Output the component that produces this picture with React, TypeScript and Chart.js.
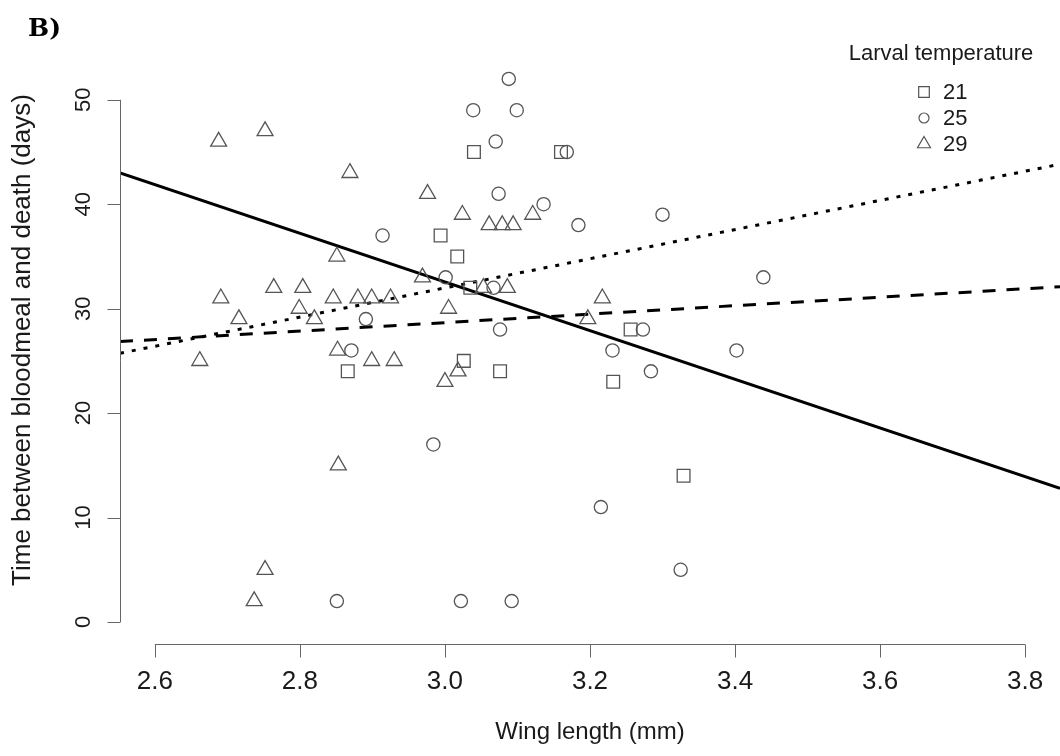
import React, { useEffect, useRef } from "react";
import { Chart, registerables } from "chart.js";

Chart.register(...registerables);

// ---------- axes ----------
const xTickValues = [2.6, 2.8, 3.0, 3.2, 3.4, 3.6, 3.8];
const xTickLabels = ["2.6", "2.8", "3.0", "3.2", "3.4", "3.6", "3.8"];
const yTickValues = [0, 10, 20, 30, 40, 50];
const yTickLabels = ["0", "10", "20", "30", "40", "50"];
const xLimits = [2.552, 3.848];
const yLimits = [0, 54];

// ---------- legend ----------
const legendTitle = "Larval temperature";
const groupLabels = ["21", "25", "29"];

// ---------- data: larval temperature 21 (squares) ----------
const wing21 = [3.040, 3.160, 2.994, 3.017, 3.035, 3.256, 2.866, 3.026, 3.076, 3.232, 3.329];
const days21 = [45, 45, 37, 35, 32, 28, 24, 25, 24, 23, 14];

// ---------- data: larval temperature 25 (circles) ----------
const wing25 = [3.088, 3.039, 3.099, 3.070, 3.168, 3.074, 3.136, 3.184, 3.300, 2.914, 3.001, 3.439, 3.067, 2.891, 3.076, 3.273, 2.871, 3.231, 3.402, 3.284, 2.984, 3.215, 3.325, 2.851, 3.022, 3.092];
const days25 = [52, 49, 49, 46, 45, 41, 40, 38, 39, 37, 33, 33, 32, 29, 28, 28, 26, 26, 26, 24, 17, 11, 5, 2, 2, 2];

// ---------- data: larval temperature 29 (triangles) ----------
const wing29 = [2.688, 2.752, 2.869, 2.976, 3.024, 3.061, 3.079, 3.094, 3.121, 2.851, 2.969, 2.764, 2.804, 3.053, 3.086, 2.691, 2.846, 2.880, 2.899, 2.925, 3.217, 2.799, 3.005, 2.716, 2.820, 3.197, 2.852, 2.662, 2.899, 2.930, 3.018, 3.000, 2.853, 2.752, 2.737];
const days29 = [46, 47, 43, 41, 39, 38, 38, 38, 39, 35, 33, 32, 32, 32, 32, 31, 31, 31, 31, 31, 31, 30, 30, 29, 29, 29, 26, 25, 25, 25, 24, 23, 15, 5, 2];

// ---------- fitted regression lines (values at the x limits) ----------
const fitWing = [2.552, 3.848];
const fitSolid = [43.0, 12.8];
const fitDashed = [26.85, 32.1];
const fitDotted = [25.73, 43.83];

const SANS = '"Liberation Sans", Arial, Helvetica, sans-serif';
const MARK = "#555555";
const TEXT = "#1a1a1a";

const toPoints = (xs: number[], ys: number[]) => xs.map((x, i) => ({ x, y: ys[i] }));

function drawSymbol(ctx: CanvasRenderingContext2D, kind: string, x: number, y: number, r: number) {
  ctx.beginPath();
  if (kind === "rect") {
    const s = r * Math.SQRT1_2;
    ctx.rect(x - s, y - s, 2 * s, 2 * s);
  } else if (kind === "circle") {
    ctx.arc(x, y, r, 0, Math.PI * 2);
  } else {
    ctx.moveTo(x, y - r);
    ctx.lineTo(x + r * 0.866, y + r * 0.5);
    ctx.lineTo(x - r * 0.866, y + r * 0.5);
    ctx.closePath();
  }
  ctx.stroke();
}

const rAxesPlugin = {
  id: "rAxes",
  afterDraw(chart: any) {
    const { ctx, chartArea, scales } = chart;
    const xs = scales.x;
    const ys = scales.y;
    ctx.save();
    ctx.strokeStyle = "#666666";
    ctx.lineWidth = 1;
    // x axis (R style, offset below plot region)
    const axY = Math.round(chartArea.bottom + 22) + 0.5;
    const xa = xs.getPixelForValue(xTickValues[0]);
    const xb = xs.getPixelForValue(xTickValues[xTickValues.length - 1]);
    ctx.beginPath();
    ctx.moveTo(xa, axY);
    ctx.lineTo(xb, axY);
    xTickValues.forEach((v) => {
      const p = Math.round(xs.getPixelForValue(v)) + 0.5;
      ctx.moveTo(p, axY);
      ctx.lineTo(p, axY + 13);
    });
    ctx.stroke();
    // y axis
    const axX = Math.round(chartArea.left) + 0.5;
    const ya = ys.getPixelForValue(yTickValues[0]);
    const yb = ys.getPixelForValue(yTickValues[yTickValues.length - 1]);
    ctx.beginPath();
    ctx.moveTo(axX, ya);
    ctx.lineTo(axX, yb);
    yTickValues.forEach((v) => {
      const p = Math.round(ys.getPixelForValue(v)) + 0.5;
      ctx.moveTo(axX, p);
      ctx.lineTo(axX - 13, p);
    });
    ctx.stroke();

    // panel label
    ctx.fillStyle = "#000";
    ctx.font = 'bold 25px "DejaVu Serif", "Liberation Serif", serif';
    ctx.textAlign = "left";
    ctx.textBaseline = "alphabetic";
    ctx.fillText("B)", 28, 36);

    // legend
    const lx = chartArea.right - 118;
    ctx.fillStyle = TEXT;
    ctx.font = `22px ${SANS}`;
    ctx.textAlign = "center";
    ctx.textBaseline = "middle";
    ctx.fillText(legendTitle, lx - 1, 54);
    const kinds = ["rect", "circle", "triangle"];
    const radii = [7.5, 5, 7.5];
    ctx.textAlign = "left";
    ctx.strokeStyle = MARK;
    ctx.lineWidth = 1.2;
    groupLabels.forEach((lab, i) => {
      const yy = 92 + i * 26;
      drawSymbol(ctx, kinds[i], lx - 18, yy, radii[i]);
      ctx.fillText(lab, lx + 1, yy + 1);
    });
    ctx.restore();
  },
};

export default function App() {
  const ref = useRef<HTMLCanvasElement | null>(null);

  useEffect(() => {
    if (!ref.current) return;
    const pointCommon = {
      showLine: false,
      backgroundColor: "rgba(0,0,0,0)",
      pointBackgroundColor: "rgba(0,0,0,0)",
      borderColor: MARK,
      pointBorderColor: MARK,
      pointBorderWidth: 1.3,
    };
    const lineCommon = {
      showLine: true,
      pointRadius: 0,
      borderColor: "#000",
      borderWidth: 3,
      fill: false,
    };
    const chart = new Chart(ref.current, {
      type: "scatter",
      data: {
        datasets: [
          { label: groupLabels[0], data: toPoints(wing21, days21), pointStyle: "rect", pointRadius: 9, ...pointCommon },
          { label: groupLabels[1], data: toPoints(wing25, days25), pointStyle: "circle", pointRadius: 6.6, ...pointCommon },
          { label: groupLabels[2], data: toPoints(wing29, days29), pointStyle: "triangle", pointRadius: 9.2, ...pointCommon },
          { label: "fit solid", data: toPoints(fitWing, fitSolid), ...lineCommon },
          { label: "fit dashed", data: toPoints(fitWing, fitDashed), borderDash: [13, 11], ...lineCommon },
          { label: "fit dotted", data: toPoints(fitWing, fitDotted), borderDash: [4, 8], ...lineCommon },
        ] as any,
      },
      options: {
        animation: false,
        responsive: false,
        layout: { autoPadding: false, padding: { top: 58, left: 0, right: 0, bottom: 0 } },
        plugins: {
          legend: { display: false },
          tooltip: { enabled: false },
          title: { display: false },
        },
        scales: {
          x: {
            type: "linear",
            position: "bottom",
            min: xLimits[0],
            max: xLimits[1],
            afterBuildTicks: (axis: any) => {
              axis.ticks = xTickValues.map((v) => ({ value: v }));
            },
            afterFit: (axis: any) => {
              axis.height = 134;
              axis.paddingLeft = 0;
              axis.paddingRight = 0;
            },
            grid: { display: false },
            border: { display: false },
            ticks: {
              autoSkip: false,
              maxRotation: 0,
              minRotation: 0,
              padding: 36,
              color: TEXT,
              font: { family: SANS, size: 26 },
              callback: (_v: any, i: number) => xTickLabels[i],
            },
            title: {
              display: true,
              text: "Wing length (mm)",
              color: TEXT,
              font: { family: SANS, size: 24 },
              padding: { top: 0, bottom: 9 },
            },
          },
          y: {
            type: "linear",
            position: "left",
            min: yLimits[0],
            max: yLimits[1],
            afterBuildTicks: (axis: any) => {
              axis.ticks = yTickValues.map((v) => ({ value: v }));
            },
            afterFit: (axis: any) => {
              axis.width = 120;
              axis.paddingTop = 0;
              axis.paddingBottom = 0;
            },
            grid: { display: false },
            border: { display: false },
            ticks: {
              autoSkip: false,
              minRotation: 90,
              maxRotation: 90,
              crossAlign: "center",
              padding: 16,
              color: TEXT,
              font: { family: SANS, size: 22 },
              callback: (_v: any, i: number) => yTickLabels[i],
            },
            title: {
              display: true,
              text: "Time between bloodmeal and death (days)",
              color: TEXT,
              font: { family: SANS, size: 26 },
              padding: { top: 7, bottom: 0 },
            },
          },
        },
      } as any,
      plugins: [rAxesPlugin],
    });
    return () => chart.destroy();
  }, []);

  return (
    <div style={{ position: "fixed", left: 0, top: 0, width: 1060, height: 756, background: "#fff" }}>
      <canvas ref={ref} width={1060} height={756} style={{ display: "block", width: 1060, height: 756 }} />
    </div>
  );
}
